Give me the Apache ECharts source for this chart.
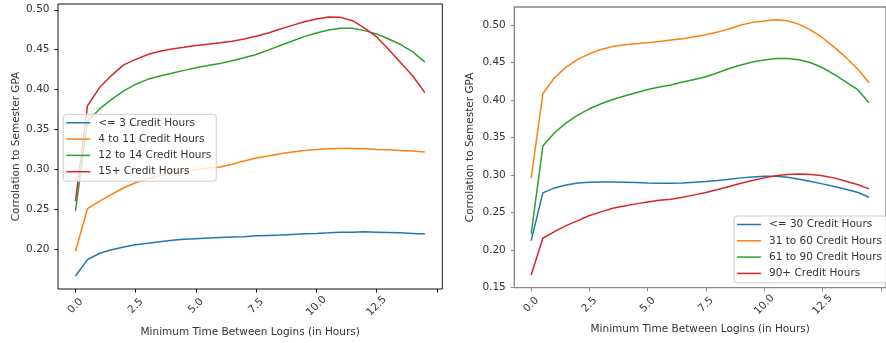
<!DOCTYPE html>
<html>
<head>
<meta charset="utf-8">
<title>Correlation to Semester GPA</title>
<script src="https://cdn.jsdelivr.net/npm/echarts@6/dist/echarts.min.js"></script>
<style>
  html, body { margin: 0; padding: 0; background: #fff; }
  #chart { width: 886px; height: 343px; }
</style>
</head>
<body>
<div id="chart"></div>
<script>
// minimum time between logins (hours)
const hours = [0, 0.5, 1, 1.5, 2, 2.5, 3, 3.5, 4, 4.5, 5, 5.5, 6, 6.5, 7, 7.5, 8, 8.5, 9, 9.5, 10, 10.5, 11, 11.5, 12, 12.5, 13, 13.5, 14, 14.5]
const xTickValues = [0, 2.5, 5, 7.5, 10, 12.5, 15]
const xLabelValues = [0, 2.5, 5, 7.5, 10, 12.5]

// left panel: credit hours this semester
const leftNames = ['<= 3 Credit Hours', '4 to 11 Credit Hours', '12 to 14 Credit Hours', '15+ Credit Hours']
const upTo3 = [0.167, 0.1876, 0.1955, 0.200, 0.2033, 0.2062, 0.2079, 0.2099, 0.2117, 0.2129, 0.2137, 0.2145, 0.2153, 0.2157, 0.216, 0.2174, 0.2178, 0.2182, 0.219, 0.2198, 0.2203, 0.221, 0.2219, 0.2219, 0.2223, 0.2219, 0.2215, 0.221, 0.2203, 0.2195]
const from4to11 = [0.198, 0.2514, 0.2608, 0.2691, 0.2774, 0.2836, 0.2886, 0.2925, 0.2955, 0.298, 0.300, 0.302, 0.3035, 0.3067, 0.3109, 0.3146, 0.3171, 0.320, 0.322, 0.324, 0.3253, 0.3262, 0.3266, 0.3266, 0.3262, 0.3253, 0.325, 0.324, 0.3233, 0.322]
const from12to14 = [0.2484, 0.360, 0.376, 0.388, 0.3985, 0.4068, 0.413, 0.4171, 0.4205, 0.4242, 0.4275, 0.4304, 0.4329, 0.4362, 0.440, 0.444, 0.4495, 0.4553, 0.461, 0.4664, 0.471, 0.4747, 0.4768, 0.4768, 0.4739, 0.4698, 0.4635, 0.4565, 0.4474, 0.4345]
const over15 = [0.2608, 0.380, 0.4027, 0.418, 0.431, 0.438, 0.444, 0.448, 0.451, 0.453, 0.4553, 0.457, 0.4586, 0.4607, 0.4635, 0.4669, 0.471, 0.476, 0.4805, 0.485, 0.4884, 0.4909, 0.4905, 0.4863, 0.477, 0.466, 0.4503, 0.4337, 0.4171, 0.3964]
const leftYTicks = [0.20, 0.25, 0.30, 0.35, 0.40, 0.45, 0.50]

// right panel: cumulative credit hours
const rightNames = ['<= 30 Credit Hours', '31 to 60 Credit Hours', '61 to 90 Credit Hours', '90+ Credit Hours']
const upTo30 = [0.2123, 0.276, 0.2826, 0.2866, 0.2893, 0.2902, 0.2906, 0.2906, 0.2902, 0.2898, 0.2893, 0.2889, 0.2889, 0.2893, 0.2902, 0.2911, 0.2924, 0.2942, 0.296, 0.2973, 0.2982, 0.2982, 0.2969, 0.2942, 0.2911, 0.288, 0.2844, 0.2809, 0.2768, 0.2702]
const from31to60 = [0.296, 0.4083, 0.4297, 0.4439, 0.4541, 0.4617, 0.4675, 0.4715, 0.4737, 0.4751, 0.4764, 0.4782, 0.480, 0.4817, 0.4844, 0.4871, 0.4906, 0.4951, 0.500, 0.5036, 0.5053, 0.5071, 0.5058, 0.5009, 0.4933, 0.4831, 0.4706, 0.4568, 0.4417, 0.423]
const from61to90 = [0.2213, 0.3384, 0.3562, 0.3695, 0.3798, 0.3882, 0.3949, 0.4007, 0.4052, 0.4096, 0.4141, 0.4172, 0.4199, 0.4239, 0.4274, 0.431, 0.4363, 0.4421, 0.4466, 0.4506, 0.4532, 0.4555, 0.4555, 0.4537, 0.4497, 0.443, 0.4341, 0.4243, 0.4141, 0.3963]
const over90 = [0.1664, 0.2154, 0.2243, 0.2323, 0.239, 0.2457, 0.2506, 0.2555, 0.2586, 0.2613, 0.2639, 0.2662, 0.2675, 0.2702, 0.2733, 0.2764, 0.2804, 0.2844, 0.2889, 0.2924, 0.296, 0.2987, 0.3004, 0.3013, 0.3004, 0.2987, 0.296, 0.2915, 0.2871, 0.2813]
const rightYTicks = [0.15, 0.20, 0.25, 0.30, 0.35, 0.40, 0.45, 0.50]

const COLORS = ['#1f77b4', '#ff7f0e', '#2ca02c', '#d62728']
const FONT = 'DejaVu Sans'
const TEXT = '#333'

const toPairs = vals => vals.map((v, i) => [hours[i], v])

const makeSeries = (names, lists, idx) => names.map((name, i) => ({
  name,
  type: 'line',
  xAxisIndex: idx,
  yAxisIndex: idx,
  data: toPairs(lists[i]),
  color: COLORS[i],
  showSymbol: false,
  lineStyle: { width: 1.5 },
  emphasis: { disabled: true }
}))

const makeXAxis = (idx, lineColor, nameGap) => ({
  type: 'value',
  gridIndex: idx,
  min: -0.725,
  max: 15.225,
  name: 'Minimum Time Between Logins (in Hours)',
  nameLocation: 'middle',
  nameGap,
  nameTextStyle: { fontFamily: FONT, fontSize: 10.5, color: TEXT },
  splitLine: { show: false },
  axisLine: { show: false, onZero: false },
  axisTick: { show: true, length: 3.5, lineStyle: { color: lineColor }, customValues: xTickValues },
  axisLabel: {
    customValues: xLabelValues,
    rotate: 45,
    align: 'center',
    verticalAlign: 'middle',
    margin: 17,
    fontFamily: FONT,
    fontSize: 10.5,
    color: TEXT,
    formatter: v => v.toFixed(1)
  }
})

const makeYAxis = (idx, min, max, ticks, lineColor, nameGap) => ({
  type: 'value',
  gridIndex: idx,
  min,
  max,
  name: 'Corrolation to Semester GPA',
  nameLocation: 'middle',
  nameRotate: 90,
  nameGap,
  nameTextStyle: { fontFamily: FONT, fontSize: 10.5, color: TEXT },
  splitLine: { show: false },
  axisLine: { show: false, onZero: false },
  axisTick: { show: true, length: 3.5, lineStyle: { color: lineColor }, customValues: ticks },
  axisLabel: {
    customValues: ticks,
    margin: 8.5,
    fontFamily: FONT,
    fontSize: 10.5,
    color: TEXT,
    formatter: v => v.toFixed(2)
  }
})

const makeLegend = (names, left, top) => ({
  data: names,
  orient: 'vertical',
  left,
  top,
  icon: 'rect',
  itemWidth: 24,
  itemHeight: 1.5,
  itemGap: 3.3,
  padding: [2, 5, 3, 3],
  backgroundColor: 'rgba(255,255,255,0.8)',
  borderColor: '#ccc',
  borderWidth: 1,
  borderRadius: 3,
  selectedMode: false,
  textStyle: { fontFamily: FONT, fontSize: 10.5, lineHeight: 13, color: TEXT, padding: [0, 0, 0, 3] }
})

const chart = echarts.init(document.getElementById('chart'), null, { renderer: 'canvas' })

chart.setOption({
  animation: false,
  backgroundColor: '#fff',
  grid: [
    { left: 58, top: 4, right: 443.7, bottom: 52, show: true, borderColor: '#111', borderWidth: 1, backgroundColor: 'transparent' },
    { left: 514.3, top: 7, right: -4.3, bottom: 55.3, show: true, borderColor: '#888', borderWidth: 1.3, backgroundColor: 'transparent' }
  ],
  xAxis: [
    makeXAxis(0, '#111', 38),
    makeXAxis(1, '#888', 36)
  ],
  yAxis: [
    makeYAxis(0, 0.1508, 0.5072, leftYTicks, '#111', 36),
    makeYAxis(1, 0.1494, 0.5241, rightYTicks, '#888', 39)
  ],
  legend: [
    makeLegend(leftNames, 63.3, 114.3),
    makeLegend(rightNames, 734, 216)
  ],
  series: [
    ...makeSeries(leftNames, [upTo3, from4to11, from12to14, over15], 0),
    ...makeSeries(rightNames, [upTo30, from31to60, from61to90, over90], 1)
  ]
})
</script>
</body>
</html>
